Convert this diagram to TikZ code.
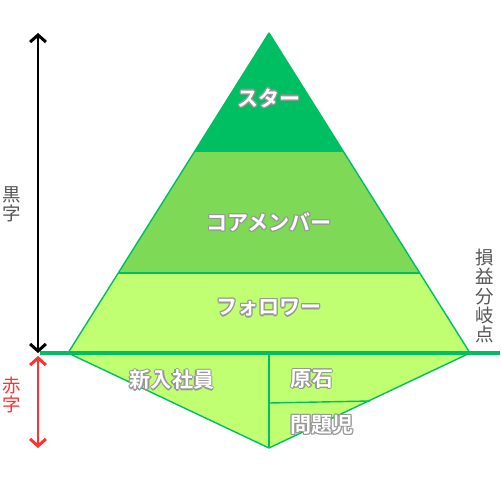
\documentclass[tikz,border=0pt]{standalone}
\usepackage{fontspec}
\setmainfont{Noto Sans CJK JP}
\newfontfamily\jpbold{Noto Sans CJK JP Bold}
\usetikzlibrary{arrows.meta}
\definecolor{gtop}{RGB}{0,191,99}
\definecolor{gmid}{RGB}{126,217,87}
\definecolor{glow}{RGB}{193,255,114}
\definecolor{gedge}{RGB}{0,191,99}
\definecolor{olgray}{RGB}{150,150,150}
\definecolor{txtgray}{RGB}{85,85,85}
\definecolor{redc}{RGB}{255,49,49}
\newcommand{\olt}[1]{%
  \setbox0=\hbox{#1}%
  \leavevmode
  \rlap{\color{olgray}\kern0.7pt\copy0}%
  \rlap{\color{olgray}\kern-0.7pt\copy0}%
  \rlap{\color{olgray}\raise0.7pt\copy0}%
  \rlap{\color{olgray}\lower0.7pt\copy0}%
  \rlap{\color{olgray}\kern0.5pt\raise0.5pt\copy0}%
  \rlap{\color{olgray}\kern-0.5pt\raise0.5pt\copy0}%
  \rlap{\color{olgray}\kern0.5pt\lower0.5pt\copy0}%
  \rlap{\color{olgray}\kern-0.5pt\lower0.5pt\copy0}%
  {\color{white}\copy0}}
\tikzset{
  band/.style={draw=gedge, line width=0.8pt, line join=round},
  wlabel/.style={inner sep=0pt, font=\jpbold\fontsize{12}{14}\selectfont},
  vlabel/.style={inner sep=0pt, align=center, font=\fontsize{10.5}{11}\selectfont},
  blackarrow/.style={line width=1.7pt, {Straight Barb[length=4pt,width=9pt]}-{Straight Barb[length=4pt,width=9pt]}},
  redarrow/.style={line width=1.7pt, redc, {Straight Barb[length=4pt,width=9pt]}-{Straight Barb[length=4pt,width=9pt]}},
}
\begin{document}
\begin{tikzpicture}[x=0.02cm,y=-0.02cm]
\useasboundingbox (0,0) rectangle (500,500);
% pyramid vertices
\coordinate (apex) at (269,33);
\coordinate (tl) at (195,151);
\coordinate (tr) at (343,151);
\coordinate (ml) at (118,273);
\coordinate (mr) at (420,273);
\coordinate (bl) at (68,353);
\coordinate (br) at (470,353);
\coordinate (bot) at (269,448);
\coordinate (midtop) at (269,353);
\coordinate (divl) at (269,403);
\coordinate (divr) at (370,401);
% bands
\fill[glow] (ml) -- (mr) -- (br) -- (bl) -- cycle;
\fill[gmid] (tl) -- (tr) -- (mr) -- (ml) -- cycle;
\fill[gtop] (apex) -- (tr) -- (tl) -- cycle;
\draw[band] (tl) -- (tr);
\draw[band] (ml) -- (mr);
\draw[band] (bl) -- (apex) -- (br);
% inverted triangle
\fill[glow] (bl) -- (br) -- (bot) -- cycle;
\draw[band] (bl) -- (bot) -- (br);
\draw[band] (midtop) -- (bot);
\draw[band] (divl) -- (divr);
% break-even line
\coordinate (linel) at (40,353);
\coordinate (liner) at (500,353);
\draw[gedge, line width=2.3pt] (linel) -- (liner);
% arrows
\coordinate (blkt) at (38,33);
\coordinate (blkb) at (38,353);
\coordinate (redt) at (38,356);
\coordinate (redb) at (38,448);
\draw[blackarrow] (blkt) -- (blkb);
\draw[redarrow] (redt) -- (redb);
% labels
\node[wlabel] (star) at (269,98) {\olt{スター}};
\node[wlabel] (core) at (269,222) {\olt{コアメンバー}};
\node[wlabel] (fol) at (269,308) {\olt{フォロワー}};
\node[wlabel] (new) at (172,380) {\olt{新入社員}};
\node[wlabel] (gem) at (312,379) {\olt{原石}};
\node[wlabel] (prob) at (322,425) {\olt{問題児}};
\node[vlabel, text=txtgray] (kuro) at (12,204) {黒\\字};
\node[vlabel, text=redc] (aka) at (12,395) {赤\\字};
\node[vlabel, text=txtgray] (bep) at (485,296) {損\\益\\分\\岐\\点};
\end{tikzpicture}
\end{document}
